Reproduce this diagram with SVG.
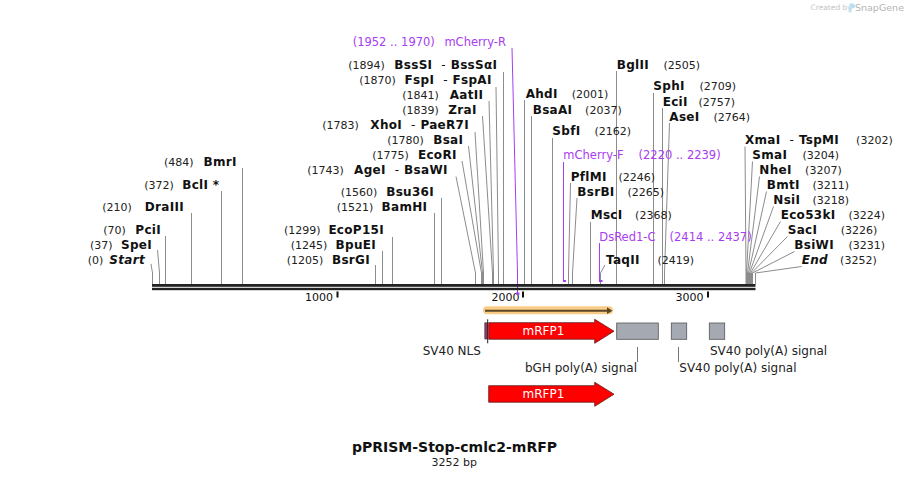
<svg xmlns="http://www.w3.org/2000/svg" width="908" height="479" viewBox="0 0 908 479">
<style>
text{font-family:"DejaVu Sans","Verdana",sans-serif;}
.n{font-size:11px;fill:#222;}
.b{font-size:12px;font-weight:bold;fill:#111;letter-spacing:0.3px;}
.bi{font-size:12px;font-weight:bold;font-style:italic;fill:#111;letter-spacing:0.3px;}
.d{font-weight:normal;letter-spacing:0;}
.p{font-size:11.5px;fill:#a83cf0;}
.e{text-anchor:end;}
.ld{fill:none;stroke:#8c8c8c;stroke-width:1;}
.pl{fill:none;stroke:#a83cf0;stroke-width:1;}
.f{font-size:12px;fill:#222;}
.tk{font-size:11px;fill:#111;}
</style>
<rect width="908" height="479" fill="#fff"/>
<g id="watermark">
<text x="810.5" y="10" style="font-size:7.5px;fill:#c4c4c4">Created by</text>
<path d="M849.5 3.5 h3 a2.5 2.5 0 0 1 0 5 h-1 v4 h-2 z" fill="#b8e0f4"/>
<text x="855" y="11" style="font-size:9.5px;fill:#b4b4b4">SnapGene</text>
</g>
<g id="connectors">
<path class="ld" d="M242.5 168V284M221.5 191V284M191.5 213V284M165.5 236V284M157.5 250L159.5 273V284M151 264L152.5 273V284"/>
<path class="ld" d="M375.5 265V284M382.5 251V284M392.5 237V284M434.5 213V284M441.5 198V284"/>
<path class="ld" d="M456 176.5L475.5 273V284M462 161L481.5 273V284M468.5 146L482.5 273V284M475 132L483.5 273V284M482.5 116L492.5 273V284M489 101L493.5 273V284M496 87L498.5 273V284M503.5 72V284"/>
<path class="ld" d="M524.5 100V284M531.5 116V284M552.5 138V284M570.5 183L568.5 273V284M577 198L572.5 273V284M590.5 222V284M605 265L600.5 273V284M616.5 71V284M653.5 93V284M662.5 108V284M669.5 123L664.5 273V284"/>
<path class="ld" d="M745 146.5L746 273V284M752.5 161.5L746.5 273V284M759.5 176.5L747.5 273V284M766.5 191.5L748.5 273V284M773.5 206.5L749.5 273V284M780.5 221.5L750.5 273V284M787.5 236.5L751.5 273V284M794.5 251.5L752.5 273V284M801.5 266.5L755.5 273V284"/>
<path class="pl" d="M512 48L517.5 273V294M563.5 162V281M599.5 243V281"/>
<path d="M637.5 347V362M678.5 347V362" stroke="#777" stroke-width="1" fill="none"/>
</g>
<g id="backbone">
<rect x="152" y="284" width="603.5" height="2.8" fill="#222"/>
<rect x="152" y="287.8" width="603.5" height="2.4" fill="#222"/>
<rect x="336.5" y="291.5" width="2" height="6" fill="#111"/>
<rect x="522" y="291.5" width="2" height="6" fill="#111"/>
<rect x="707" y="291.5" width="2" height="6" fill="#111"/>
<text class="tk e" x="333" y="301">1000</text>
<text class="tk e" x="519.5" y="301">2000</text>
<text class="tk e" x="703.5" y="301">3000</text>
</g>
<g id="site-Start"><text class="n" x="87.7" y="263.5">(0)</text><text class="bi e" x="145" y="263.5">Start</text></g>
<g id="site-SpeI"><text class="n" x="90" y="248.5">(37)</text><text class="b e" x="152" y="248.5">SpeI</text></g>
<g id="site-PciI"><text class="n" x="103.3" y="233.5">(70)</text><text class="b e" x="161" y="233.5">PciI</text></g>
<g id="site-DraIII"><text class="n" x="102.3" y="211">(210)</text><text class="b e" x="184" y="211">DraIII</text></g>
<g id="site-BclI"><text class="n" x="144.3" y="188.5">(372)</text><text class="b e" x="219.3" y="188.5">BclI *</text></g>
<g id="site-BmrI"><text class="n" x="164" y="166">(484)</text><text class="b e" x="236.7" y="166">BmrI</text></g>
<g id="site-BsrGI"><text class="n" x="286.7" y="263.5">(1205)</text><text class="b e" x="370" y="263.5">BsrGI</text></g>
<g id="site-BpuEI"><text class="n" x="290.7" y="248.5">(1245)</text><text class="b e" x="376" y="248.5">BpuEI</text></g>
<g id="site-EcoP15I"><text class="n" x="284" y="233.5">(1299)</text><text class="b e" x="384" y="233.5">EcoP15I</text></g>
<g id="site-BamHI"><text class="n" x="336.7" y="211">(1521)</text><text class="b e" x="427.3" y="211">BamHI</text></g>
<g id="site-Bsu36I"><text class="n" x="340.7" y="196">(1560)</text><text class="b e" x="434" y="196">Bsu36I</text></g>
<g id="site-AgeI"><text class="n" x="307.3" y="173.5">(1743)</text><text class="b e" x="447.7" y="173.5">AgeI<tspan class="d" dx="9">-</tspan><tspan dx="5">BsaWI</tspan></text></g>
<g id="site-EcoRI"><text class="n" x="372.3" y="158.5">(1775)</text><text class="b e" x="456.7" y="158.5">EcoRI</text></g>
<g id="site-BsaI"><text class="n" x="387.3" y="143.5">(1780)</text><text class="b e" x="463.3" y="143.5">BsaI</text></g>
<g id="site-XhoI"><text class="n" x="322.3" y="128.5">(1783)</text><text class="b e" x="469" y="128.5">XhoI<tspan class="d" dx="9">-</tspan><tspan dx="5">PaeR7I</tspan></text></g>
<g id="site-ZraI"><text class="n" x="402.3" y="113.5">(1839)</text><text class="b e" x="476.7" y="113.5">ZraI</text></g>
<g id="site-AatII"><text class="n" x="402.3" y="98.5">(1841)</text><text class="b e" x="483.3" y="98.5">AatII</text></g>
<g id="site-FspI"><text class="n" x="359.3" y="83.5">(1870)</text><text class="b e" x="491.7" y="83.5">FspI<tspan class="d" dx="9">-</tspan><tspan dx="5">FspAI</tspan></text></g>
<g id="site-BssSI"><text class="n" x="348.3" y="68.5">(1894)</text><text class="b e" x="497.3" y="68.5">BssSI<tspan class="d" dx="9">-</tspan><tspan dx="5">BssSαI</tspan></text></g>
<g id="primer-mCherry-R"><text class="p" x="352.7" y="46">(1952 .. 1970)</text><text class="p e" x="506" y="46">mCherry-R</text><rect x="516" y="292.5" width="3.5" height="2.2" fill="#a83cf0"/></g>
<g id="site-AhdI"><text class="b" x="525.7" y="98">AhdI</text><text class="n e" x="608.3" y="98">(2001)</text></g>
<g id="site-BsaAI"><text class="b" x="532.7" y="113.5">BsaAI</text><text class="n e" x="621.7" y="113.5">(2037)</text></g>
<g id="site-SbfI"><text class="b" x="552.3" y="135">SbfI</text><text class="n e" x="631" y="135">(2162)</text></g>
<g id="primer-mCherry-F"><text class="p" x="563.3" y="158.5">mCherry-F</text><text class="p e" x="720.7" y="158.5">(2220 .. 2239)</text><rect x="563" y="280" width="3" height="2" fill="#a83cf0"/></g>
<g id="site-PflMI"><text class="b" x="570.7" y="180.5">PflMI</text><text class="n e" x="655" y="180.5">(2246)</text></g>
<g id="site-BsrBI"><text class="b" x="577.3" y="195.5">BsrBI</text><text class="n e" x="664" y="195.5">(2265)</text></g>
<g id="site-MscI"><text class="b" x="590.7" y="219">MscI</text><text class="n e" x="671.7" y="219">(2368)</text></g>
<g id="primer-DsRed1-C"><text class="p" x="599.3" y="240.5">DsRed1-C</text><text class="p e" x="751.7" y="240.5">(2414 .. 2437)</text><rect x="599" y="280" width="3.5" height="2" fill="#a83cf0"/></g>
<g id="site-TaqII"><text class="b" x="606" y="264">TaqII</text><text class="n e" x="694" y="264">(2419)</text></g>
<g id="site-BglII"><text class="b" x="616.7" y="68.5">BglII</text><text class="n e" x="700" y="68.5">(2505)</text></g>
<g id="site-SphI"><text class="b" x="653.3" y="90">SphI</text><text class="n e" x="736" y="90">(2709)</text></g>
<g id="site-EciI"><text class="b" x="662.7" y="105.5">EciI</text><text class="n e" x="735" y="105.5">(2757)</text></g>
<g id="site-AseI"><text class="b" x="669.3" y="120.5">AseI</text><text class="n e" x="750" y="120.5">(2764)</text></g>
<g id="site-XmaI"><text class="b" x="745" y="143.5">XmaI<tspan class="d" dx="9">-</tspan><tspan dx="5">TspMI</tspan></text><text class="n e" x="892.7" y="143.5">(3202)</text></g>
<g id="site-SmaI"><text class="b" x="752.3" y="158.5">SmaI</text><text class="n e" x="839" y="158.5">(3204)</text></g>
<g id="site-NheI"><text class="b" x="759.3" y="173.5">NheI</text><text class="n e" x="841.7" y="173.5">(3207)</text></g>
<g id="site-BmtI"><text class="b" x="766.7" y="188.5">BmtI</text><text class="n e" x="849" y="188.5">(3211)</text></g>
<g id="site-NsiI"><text class="b" x="773.3" y="203.5">NsiI</text><text class="n e" x="849" y="203.5">(3218)</text></g>
<g id="site-Eco53kI"><text class="b" x="780.7" y="218.5">Eco53kI</text><text class="n e" x="885" y="218.5">(3224)</text></g>
<g id="site-SacI"><text class="b" x="787.7" y="233.5">SacI</text><text class="n e" x="877.3" y="233.5">(3226)</text></g>
<g id="site-BsiWI"><text class="b" x="794.3" y="248.5">BsiWI</text><text class="n e" x="885" y="248.5">(3231)</text></g>
<g id="site-End"><text class="bi" x="801.7" y="263.5">End</text><text class="n e" x="876.7" y="263.5">(3252)</text></g>
<g id="orf">
<rect x="483" y="306.3" width="130" height="8" rx="4" fill="#f9c77a" opacity="0.9"/>
<path d="M485 310.7H608" stroke="#5a4526" stroke-width="2"/>
<path d="M607 307.3L612.5 310.7L607 314z" fill="#5a4526"/>
</g>
<g id="feature-SV40-NLS">
<rect x="484.8" y="322.8" width="2.6" height="16.2" fill="#993366" stroke="#333" stroke-width="0.6"/>
<path d="M487.7 319.3V343.3" stroke="#222" stroke-width="1"/>
<text class="f" x="422.7" y="355">SV40 NLS</text>
</g>
<g id="feature-mRFP1">
<path d="M488.7 322.7H594.7V319.3L614 331.2L594.7 343.3V339.2H488.7Z" fill="#ff0000" stroke="#5a1a1a" stroke-width="0.8"/>
<text x="543.5" y="335" style="font-size:12px;fill:#fff;text-anchor:middle">mRFP1</text>
</g>
<g id="feature-bGH-polyA">
<rect x="616.7" y="323" width="41.6" height="16.3" fill="#a5aab2" stroke="#555" stroke-width="0.8"/>
<text class="f" x="525" y="371.7">bGH poly(A) signal</text>
</g>
<g id="feature-SV40-polyA-1">
<rect x="671.3" y="323" width="15.4" height="16.3" fill="#a5aab2" stroke="#555" stroke-width="0.8"/>
<text class="f" x="679.3" y="371.7">SV40 poly(A) signal</text>
</g>
<g id="feature-SV40-polyA-2">
<rect x="709.3" y="323" width="15.4" height="16.3" fill="#a5aab2" stroke="#555" stroke-width="0.8"/>
<text class="f" x="710" y="355">SV40 poly(A) signal</text>
</g>
<g id="feature-mRFP1-2">
<path d="M488.7 385.7H594.7V382.3L614 394.2L594.7 406.3V402.2H488.7Z" fill="#ff0000" stroke="#5a1a1a" stroke-width="0.8"/>
<text x="543.5" y="398" style="font-size:12px;fill:#fff;text-anchor:middle">mRFP1</text>
</g>
<g id="title">
<text x="454.5" y="452.3" style="font-size:14px;font-weight:bold;fill:#111;text-anchor:middle">pPRISM-Stop-cmlc2-mRFP</text>
<text x="454.3" y="465.7" style="font-size:11px;fill:#222;text-anchor:middle">3252 bp</text>
</g>
</svg>
